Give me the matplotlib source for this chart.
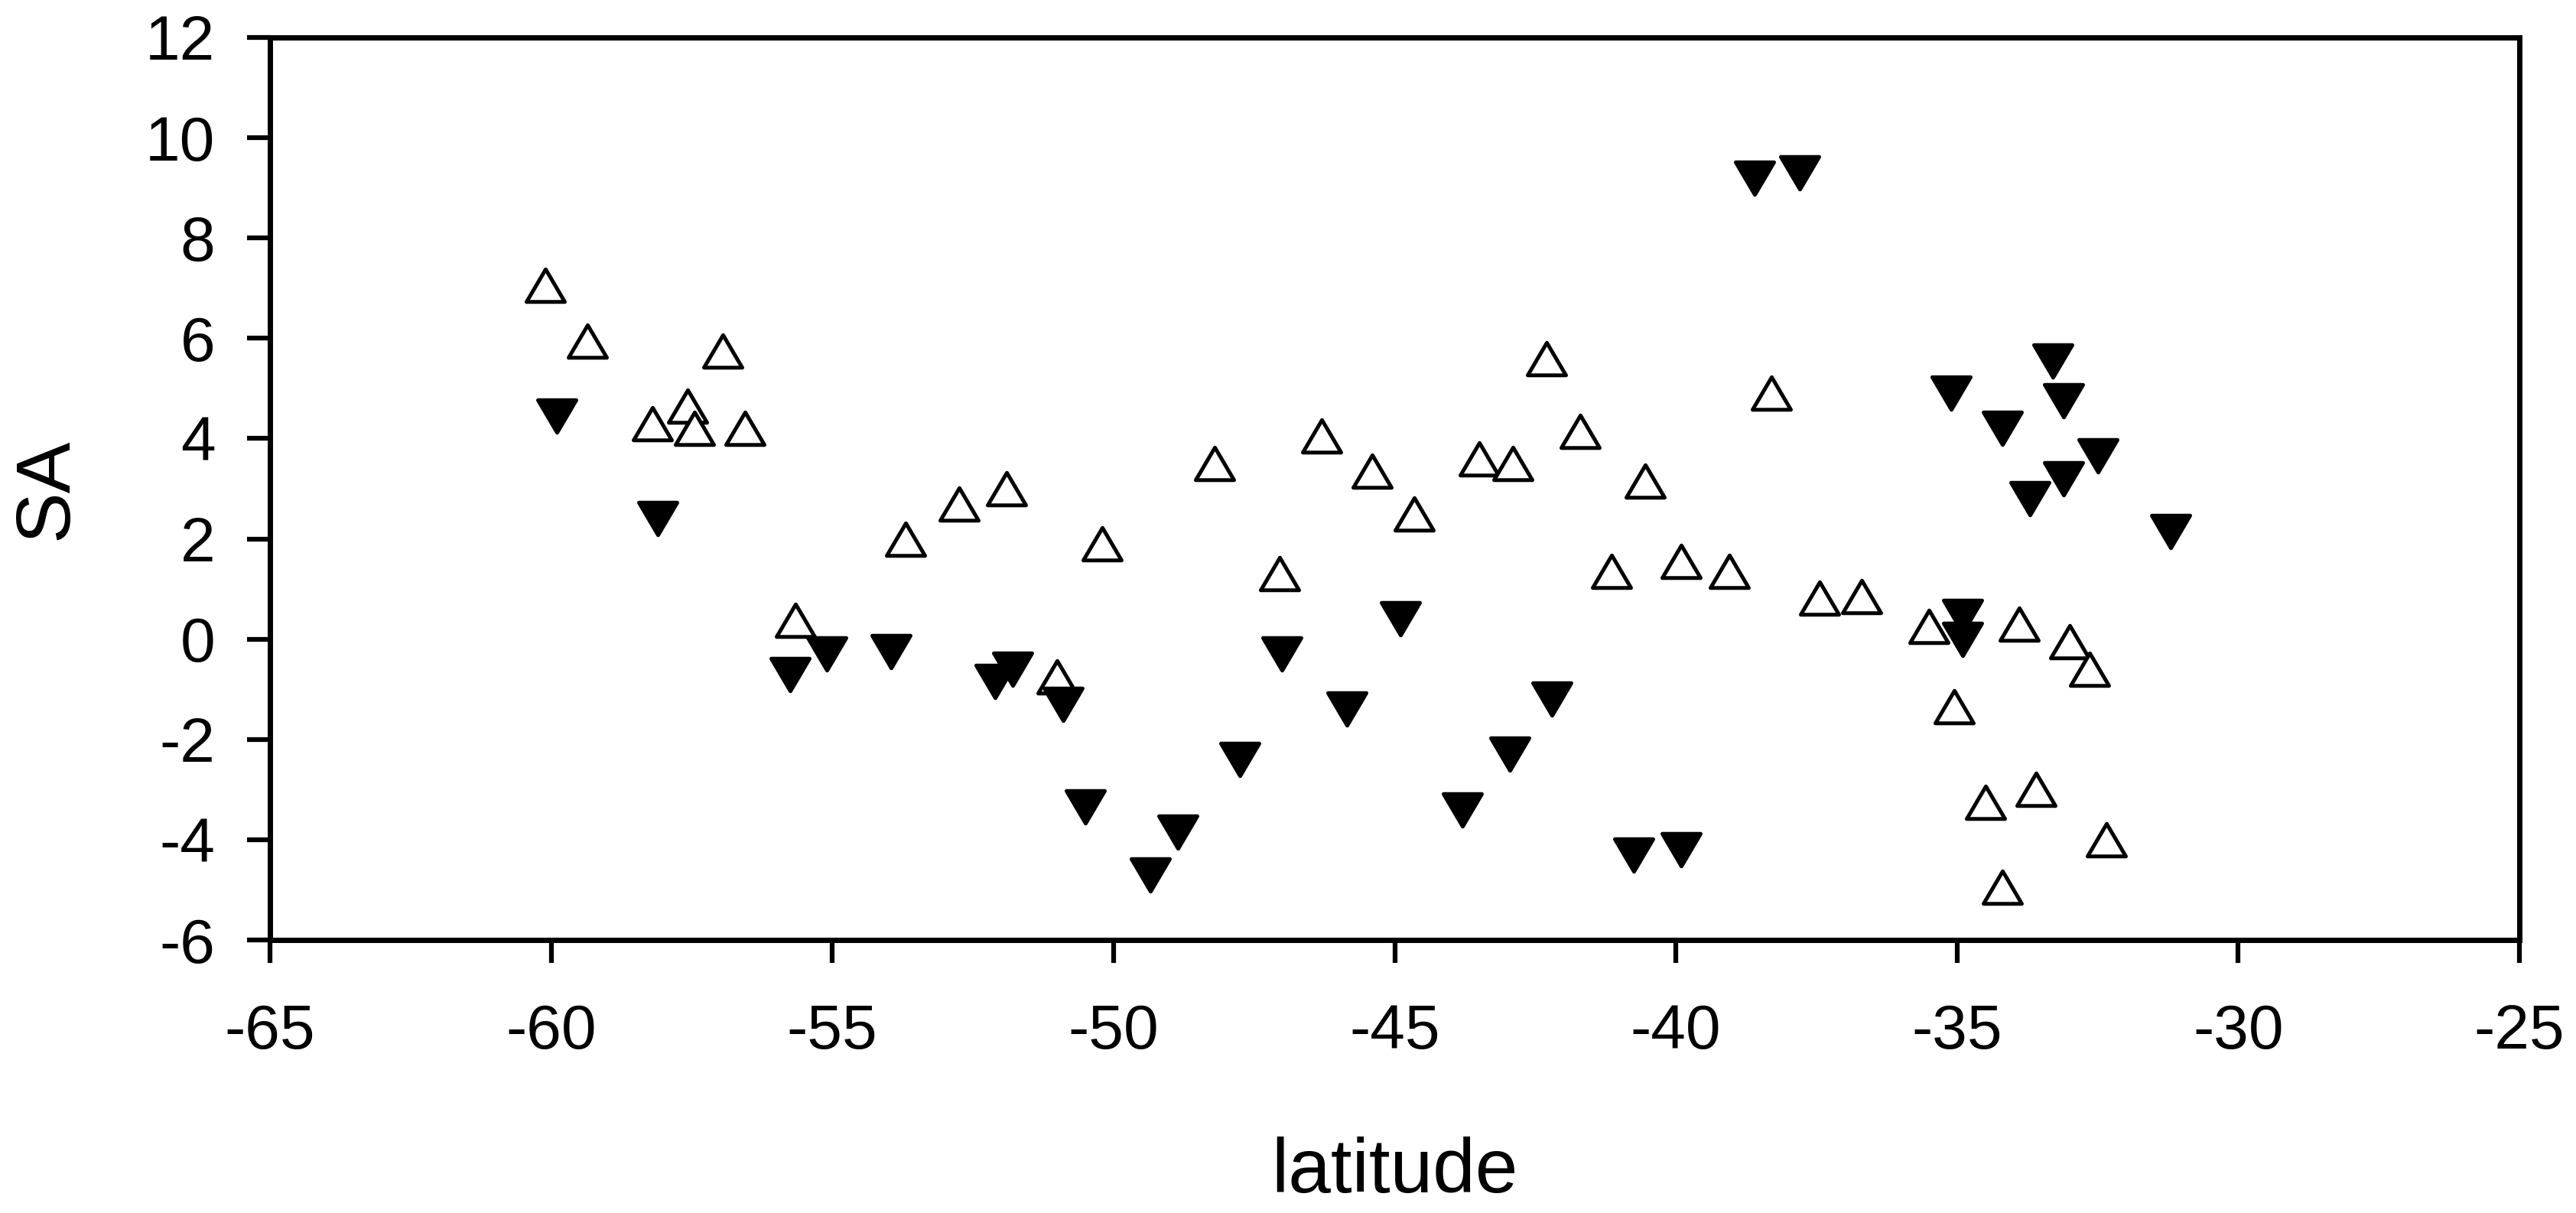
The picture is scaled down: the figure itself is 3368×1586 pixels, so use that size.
import numpy as np
import matplotlib
matplotlib.use('Agg')
import matplotlib.pyplot as plt
from matplotlib.path import Path

# valores (latitude, SA)
lat_aberto = [-60.1, -59.35, -56.95, -57.57, -58.2, -57.45, -56.55, -55.65, -53.7, -52.75,
              -51.9, -50.2, -51.0, -48.2, -47.05, -46.3, -45.4, -44.65, -43.5, -42.9,
              -42.3, -41.7, -41.15, -40.55, -39.9, -39.05, -38.3, -37.45, -36.7, -35.5,
              -35.05, -34.5, -34.2, -33.9, -33.6, -33.0, -32.65, -32.35]
sa_aberto = [7.05, 5.95, 5.75, 4.65, 4.3, 4.2, 4.2, 0.38, 2.0, 2.7,
             3.0, 1.9, -0.75, 3.5, 1.3, 4.05, 3.35, 2.5, 3.6, 3.5,
             5.6, 4.15, 1.35, 3.15, 1.55, 1.35, 4.9, 0.82, 0.85, 0.25,
             -1.35, -3.25, -4.95, 0.3, -3.0, -0.05, -0.6, -4.0]

lat_cheio = [-59.9, -58.1, -55.75, -55.1, -53.95, -52.1, -51.8, -50.9, -50.5, -49.35,
             -48.85, -47.75, -47.0, -45.85, -44.9, -43.8, -42.95, -42.2, -40.75, -39.9,
             -38.6, -37.8, -35.1, -34.9, -34.9, -34.2, -33.7, -33.3, -33.1, -33.1,
             -32.5, -31.2]
sa_cheio = [4.45, 2.4, -0.7, -0.3, -0.25, -0.85, -0.6, -1.3, -3.35, -4.7,
            -3.85, -2.4, -0.3, -1.4, 0.4, -3.4, -2.3, -1.2, -4.3, -4.2,
            9.2, 9.3, 4.9, 0.45, 0.0, 4.2, 2.8, 5.55, 4.75, 3.2,
            3.65, 2.15]

x_ticks = [-65, -60, -55, -50, -45, -40, -35, -30, -25]
y_ticks = [-6, -4, -2, 0, 2, 4, 6, 8, 10, 12]

plt.rcParams['font.family'] = ['Liberation Sans', 'DejaVu Sans']
plt.rcParams['axes.unicode_minus'] = False

# triangulos um pouco mais largos que altos
h = 0.85
tri_up = Path([(0, h), (-1, -h), (1, -h), (0, h)],
              [Path.MOVETO, Path.LINETO, Path.LINETO, Path.CLOSEPOLY])
tri_down = Path([(0, -h), (-1, h), (1, h), (0, -h)],
                [Path.MOVETO, Path.LINETO, Path.LINETO, Path.CLOSEPOLY])

fig = plt.figure(figsize=(33.68, 15.86), dpi=100)
ax = fig.add_axes([353 / 3368, 1 - 1229 / 1586, (3294 - 353) / 3368, (1229 - 49) / 1586])

ax.plot(lat_aberto, sa_aberto, linestyle='none', marker=tri_up, markersize=36,
        markerfacecolor='white', markeredgecolor='black', markeredgewidth=3.6)
ax.plot(lat_cheio, sa_cheio, linestyle='none', marker=tri_down, markersize=36,
        markerfacecolor='black', markeredgecolor='black', markeredgewidth=3.6)

ax.set_xlim(-65, -25)
ax.set_ylim(-6, 12)
ax.set_xticks(x_ticks)
ax.set_yticks(y_ticks)

for s in ax.spines.values():
    s.set_linewidth(5)
ax.tick_params(direction='out', length=21.6, width=4.5, labelsize=59)
ax.tick_params(axis='x', pad=38)
ax.tick_params(axis='y', pad=30)

ax.set_xlabel('latitude', fontsize=72)
ax.xaxis.label.set_va('baseline')
ax.xaxis.set_label_coords(1823 / 3368, 1 - 1559 / 1586, transform=fig.transFigure)
ax.set_ylabel('SA', fontsize=72)
ax.yaxis.label.set_va('center')
ax.yaxis.set_label_coords(61 / 3368, 1 - 639 / 1586, transform=fig.transFigure)

fig.savefig('out.png', dpi=100, facecolor='white')
